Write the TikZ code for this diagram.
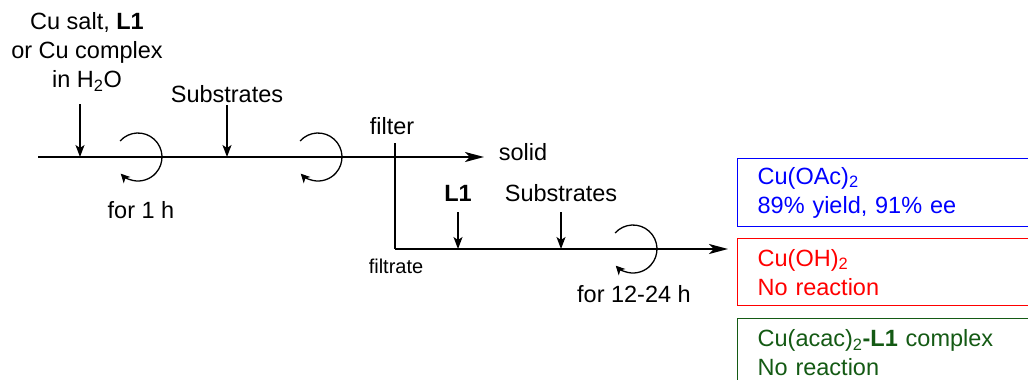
\documentclass[tikz,border=0pt]{standalone}
\usepackage{fontspec}
\setmainfont{Liberation Sans}
\usetikzlibrary{arrows.meta}
\definecolor{boxblue}{RGB}{0,0,255}
\definecolor{boxred}{RGB}{255,0,0}
\definecolor{boxgreen}{RGB}{20,90,20}
\begin{document}
\begin{tikzpicture}[x=1pt,y=1pt,
 lbl/.style={font=\fontsize{23.5}{29}\selectfont, inner sep=0pt, anchor=base},
 smalllbl/.style={font=\fontsize{20}{24}\selectfont, inner sep=0pt, anchor=base},
 flowarrow/.style={line width=2pt, -{Stealth[length=19pt,width=10pt,inset=5pt]}},
 flowline/.style={line width=2pt},
 addarrow/.style={line width=1.5pt, -{Stealth[length=12pt,width=9pt,inset=3pt]}},
 stir/.style={line width=1.3pt, -{Stealth[length=9pt,width=9pt,inset=2.5pt]}},
 result/.style={draw, line width=1.3pt, anchor=north west, minimum width=320pt,
   text width=290pt, inner xsep=20pt, inner ysep=0pt, align=left,
   font=\fontsize{23.5}{29}\selectfont}
]
\clip (0,0) rectangle (1028,-380);
\fill[white] (0,0) rectangle (1028,-380);

% texts
\node[lbl, anchor=center, align=center] (cu) at (87,-52) {Cu salt, \textbf{L1}\\or Cu complex\\in H\textsubscript{2}O};
\node[lbl] (sub1) at (227,-102) {Substrates};
\node[lbl] (t1) at (141,-218) {for 1 h};
\node[lbl] (filter) at (392,-134) {filter};
\node[lbl] (solid) at (523,-160) {solid};
\node[lbl] (l1b) at (458,-201) {\textbf{L1}};
\node[lbl] (sub2) at (561,-201) {Substrates};
\node[smalllbl] (filtrate) at (396,-273) {filtrate};
\node[lbl] (t2) at (634,-302) {for 12-24 h};

% result boxes
\node[result, draw=boxblue, text=boxblue, minimum height=68pt] (r1) at (737,-158)
  {Cu(OAc)\textsubscript{2}\\89\% yield, 91\% ee};
\node[result, draw=boxred, text=boxred, minimum height=67pt] (r2) at (737,-238)
  {Cu(OH)\textsubscript{2}\\No reaction};
\node[result, draw=boxgreen, text=boxgreen, minimum height=68pt] (r3) at (737,-318)
  {Cu(acac)\textsubscript{2}\textbf{-L1} complex\\No reaction};

% coordinates
\coordinate (start) at (38,-157);
\coordinate (solidtip) at (484,-157);
\coordinate (ftop) at (395,-143);
\coordinate (fbot) at (395,-249);
\coordinate (endtip) at (728,-249);
\coordinate (a1top) at (80,-104);
\coordinate (s1) at (138,-157);
\coordinate (s2) at (318,-157);
\coordinate (s3) at (633,-249);

% main flow
\draw[flowarrow] (start) -- (solidtip);
\draw[flowline] (ftop) -- (fbot);
\draw[flowarrow] (fbot) -- (endtip);

% additions
\draw[addarrow] (a1top) -- (a1top |- start);
\draw[addarrow] ([yshift=-3pt]sub1.south) -- (sub1.south |- start);
\draw[addarrow] ([yshift=-11pt]l1b.south) -- (l1b.south |- fbot);
\draw[addarrow] ([yshift=-11pt]sub2.south) -- (sub2.south |- fbot);

% stirring
\draw[stir] ([shift={(138:24pt)}]s1) arc[start angle=138,end angle=-136,radius=24pt];
\draw[stir] ([shift={(138:24pt)}]s2) arc[start angle=138,end angle=-136,radius=24pt];
\draw[stir] ([shift={(138:24pt)}]s3) arc[start angle=138,end angle=-136,radius=24pt];
\end{tikzpicture}
\end{document}
